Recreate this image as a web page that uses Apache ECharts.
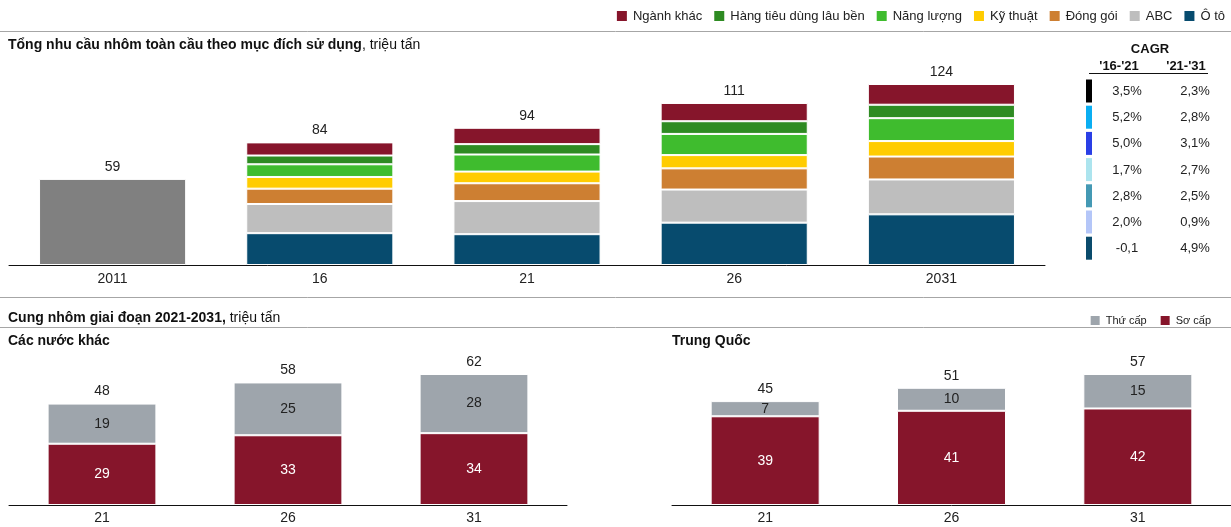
<!DOCTYPE html>
<html>
<head>
<meta charset="utf-8">
<script src="https://cdn.jsdelivr.net/npm/echarts@6/dist/echarts.min.js"></script>
<style>
  html, body { margin: 0; padding: 0; background: #fff; }
  #chart { width: 1231px; height: 527px; }
</style>
</head>
<body>
<div id="chart"></div>
<script>
// ---- Demand by end use (million tonnes) ----
const demandCats = ['2011', '16', '21', '26', '2031'];
const demand2011 = [59, '-', '-', '-', '-'];
const otoVals = ['-', 21.8, 21.1, 29.0, 34.7];
const abcVals = ['-', 20.0, 22.7, 22.7, 23.9];
const dongGoiVals = ['-', 10.5, 12.2, 14.5, 15.7];
const kyThuatVals = ['-', 8.0, 8.0, 9.1, 10.6];
const nangLuongVals = ['-', 8.7, 11.7, 14.5, 15.7];
const hangTieuDungVals = ['-', 6.0, 7.1, 8.7, 9.2];
const nganhKhacVals = ['-', 9.0, 11.2, 12.5, 14.2];

// ---- CAGR table ----
const cagrRows = ['Ngành khác', 'Hàng tiêu dùng lâu bền', 'Năng lượng', 'Kỹ thuật', 'Đóng gói', 'ABC', 'Ô tô'];
const cagr1621 = ['3,5%', '5,2%', '5,0%', '1,7%', '2,8%', '2,0%', '-0,1'];
const cagr2131 = ['2,3%', '2,8%', '3,1%', '2,7%', '2,5%', '0,9%', '4,9%'];
const cagrSwatch = ['#000000', '#0AAEF2', '#2A3FE6', '#ACE4EE', '#4499B4', '#B4C6F8', '#0A4B6C'];

// ---- Supply 2021-2031 (million tonnes) ----
const supplyCats = ['21', '26', '31'];
const otherPrimary = [29, 33, 34];
const otherSecondary = [19, 25, 28];
const chinaPrimary = [38.6, 41, 42];
const chinaSecondary = [6.6, 10, 15];

const FONT = '"Liberation Sans", Arial, sans-serif';
const C = {
  nganhKhac: '#86152B', hangTieuDung: '#2E8B22', nangLuong: '#3FBC2E',
  kyThuat: '#FFCC00', dongGoi: '#CD7F32', abc: '#BEBEBE', oto: '#074B6E',
  base: '#808080', primary: '#86152B', secondary: '#9EA5AC'
};

const chart = echarts.init(document.getElementById('chart'), null, { renderer: 'canvas' });

const sumAt = (arrs, i) => arrs.reduce((s, a) => s + (typeof a[i] === 'number' ? a[i] : 0), 0);
const demandStack = [otoVals, abcVals, dongGoiVals, kyThuatVals, nangLuongVals, hangTieuDungVals, nganhKhacVals];

const baseLabel = { color: '#222', fontSize: 14, fontFamily: FONT };

function demandSeries(name, data, color, isTop) {
  const s = {
    name, type: 'bar', stack: 'demand', xAxisIndex: 0, yAxisIndex: 0,
    data, barWidth: '71%',
    itemStyle: { color, borderColor: '#fff', borderWidth: 1 },
    emphasis: { disabled: true }
  };
  if (isTop) {
    s.label = Object.assign({
      show: true, position: 'top', distance: 5,
      formatter: p => Math.round(sumAt(demandStack, p.dataIndex))
    }, baseLabel);
  }
  return s;
}

function supplySeries(name, data, color, xi, textColor, isTop, totalsFrom) {
  const s = {
    name, type: 'bar', stack: 'supply' + xi, xAxisIndex: xi, yAxisIndex: xi,
    data, barWidth: '58.5%',
    itemStyle: { color, borderColor: '#fff', borderWidth: 1 },
    emphasis: { disabled: true },
    label: {
      show: true, position: 'inside', color: textColor, fontSize: 14, fontFamily: FONT,
      formatter: p => Math.round(p.value)
    }
  };
  const out = [s];
  if (isTop) {
    // totals drawn above each stack
    out.push({
      name: name, type: 'bar', stack: 'supply' + xi, xAxisIndex: xi, yAxisIndex: xi,
      data: data.map(() => 0), barWidth: '58.5%',
      itemStyle: { color: 'transparent' }, emphasis: { disabled: true },
      label: Object.assign({
        show: true, position: 'top', distance: 5,
        formatter: p => Math.round(sumAt(totalsFrom, p.dataIndex))
      }, baseLabel),
      legendHoverLink: false, silent: true
    });
  }
  return out;
}

const catAxis = (gi, data, margin) => ({
  type: 'category', gridIndex: gi, data,
  axisLine: { show: true, lineStyle: { color: '#111', width: 1 } },
  axisTick: { show: false },
  axisLabel: { color: '#222', fontSize: 14, fontFamily: FONT, margin }
});
const valAxis = (gi, max) => ({
  type: 'value', gridIndex: gi, min: 0, max, show: false, splitLine: { show: false }
});

// graphic elements: rules, headings and the CAGR table
const graphics = [];
const hline = (y, x1, x2, color) => graphics.push({
  type: 'line', silent: true,
  shape: { x1, y1: y, x2, y2: y },
  style: { stroke: color, lineWidth: 1 }
});
const text = (t, x, y, opts) => graphics.push({
  type: 'text', silent: true,
  style: Object.assign({ text: t, x, y, fill: '#111', font: '13px ' + FONT,
    textAlign: 'left', textVerticalAlign: 'middle' }, opts || {})
});

hline(31.5, 0, 1231, '#A6A6A6');
hline(297.5, 0, 1231, '#A6A6A6');
hline(327.5, 0, 1231, '#A6A6A6');

const headRich = {
  b: { fontWeight: 'bold', fontSize: 14, fontFamily: FONT, fill: '#111' },
  n: { fontSize: 14, fontFamily: FONT, fill: '#111' }
};
graphics.push({
  type: 'text', silent: true,
  style: {
    text: '{b|Tổng nhu cầu nhôm toàn cầu theo mục đích sử dụng}{n|, triệu tấn}',
    x: 8, y: 45, textVerticalAlign: 'middle', rich: headRich
  }
});
graphics.push({
  type: 'text', silent: true,
  style: {
    text: '{b|Cung nhôm giai đoạn 2021-2031,}{n| triệu tấn}',
    x: 8, y: 318, textVerticalAlign: 'middle', rich: headRich
  }
});
text('Các nước khác', 8, 341, { font: 'bold 14px ' + FONT });
text('Trung Quốc', 672, 341, { font: 'bold 14px ' + FONT });

// CAGR table
text('CAGR', 1150, 49, { font: 'bold 13px ' + FONT, textAlign: 'center' });
text("'16-'21", 1119, 66, { font: 'bold 13px ' + FONT, textAlign: 'center' });
text("'21-'31", 1186, 66, { font: 'bold 13px ' + FONT, textAlign: 'center' });
hline(73.5, 1089, 1208, '#111');
cagrRows.forEach((r, i) => {
  const top = 79.5 + i * 26.2;
  graphics.push({
    type: 'rect', silent: true,
    shape: { x: 1086, y: top, width: 6, height: 23 },
    style: { fill: cagrSwatch[i] }
  });
  text(cagr1621[i], 1127, top + 12, { fill: '#222', textAlign: 'center' });
  text(cagr2131[i], 1195, top + 12, { fill: '#222', textAlign: 'center' });
});

const option = {
  animation: false,
  backgroundColor: '#fff',
  textStyle: { fontFamily: FONT },
  legend: [
    {
      right: 6, top: 9, padding: 0, itemWidth: 12, itemHeight: 12, itemGap: 10,
      icon: 'rect', selectedMode: false,
      textStyle: { fontSize: 13, color: '#222', fontFamily: FONT },
      data: ['Ngành khác', 'Hàng tiêu dùng lâu bền', 'Năng lượng', 'Kỹ thuật', 'Đóng gói', 'ABC', 'Ô tô']
    },
    {
      right: 15, top: 309, itemWidth: 11, itemHeight: 11, itemGap: 12,
      icon: 'rect', selectedMode: false,
      textStyle: { fontSize: 11, color: '#222', fontFamily: FONT },
      data: ['Thứ cấp', 'Sơ cấp']
    }
  ],
  grid: [
    { left: 9, right: 186, top: 84, bottom: 262 },
    { left: 9, width: 558, top: 374, bottom: 22 },
    { left: 672, right: 0, top: 374, bottom: 22 }
  ],
  xAxis: [catAxis(0, demandCats, 7), catAxis(1, supplyCats, 6), catAxis(2, supplyCats, 6)],
  yAxis: [valAxis(0, 124), valAxis(1, 62), valAxis(2, 57)],
  series: [
    Object.assign(demandSeries('2011', demand2011, C.base, false), {
      label: Object.assign({ show: true, position: 'top', distance: 5 }, baseLabel)
    }),
    demandSeries('Ô tô', otoVals, C.oto),
    demandSeries('ABC', abcVals, C.abc),
    demandSeries('Đóng gói', dongGoiVals, C.dongGoi),
    demandSeries('Kỹ thuật', kyThuatVals, C.kyThuat),
    demandSeries('Năng lượng', nangLuongVals, C.nangLuong),
    demandSeries('Hàng tiêu dùng lâu bền', hangTieuDungVals, C.hangTieuDung),
    demandSeries('Ngành khác', nganhKhacVals, C.nganhKhac, true),
    ...supplySeries('Sơ cấp', otherPrimary, C.primary, 1, '#fff'),
    ...supplySeries('Thứ cấp', otherSecondary, C.secondary, 1, '#222', true, [otherPrimary, otherSecondary]),
    ...supplySeries('Sơ cấp', chinaPrimary, C.primary, 2, '#fff'),
    ...supplySeries('Thứ cấp', chinaSecondary, C.secondary, 2, '#222', true, [chinaPrimary, chinaSecondary])
  ],
  graphic: graphics
};

chart.setOption(option);
</script>
</body>
</html>
